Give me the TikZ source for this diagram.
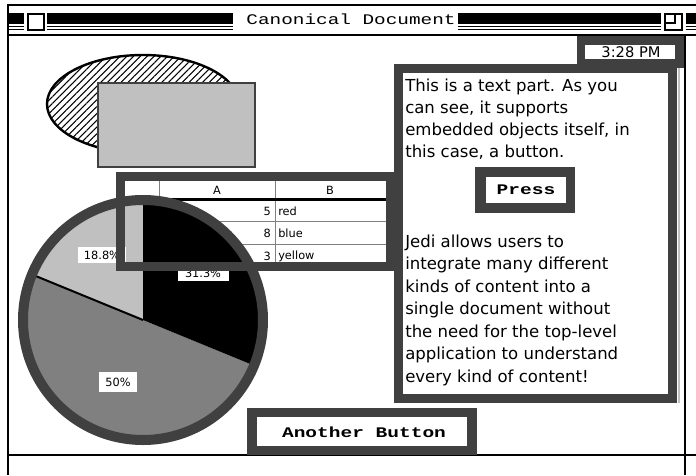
\documentclass[tikz,border=0pt]{standalone}
\usepackage{graphicx}
\usepackage{fontspec}
\setmainfont{DejaVu Sans}
\newfontfamily\monofont{Liberation Mono}
\usetikzlibrary{patterns.meta}
\definecolor{dk}{HTML}{404040}
\definecolor{lg}{HTML}{C0C0C0}
\definecolor{mg}{HTML}{808080}
\newcommand{\bodyfont}{\fontsize{12.4}{15}\selectfont}
\newcommand{\tabfont}{\fontsize{8.5}{10}\selectfont}
\newcommand{\lblfont}{\fontsize{8.5}{10}\selectfont}
\newcommand{\btnfont}{\monofont\bfseries\fontsize{11}{12}\selectfont}
\newcommand{\ttlfont}{\monofont\fontsize{11}{12}\selectfont}
\tikzset{
  px/.style={line width=#1*0.75pt},
  body/.style={anchor=base west, inner sep=0pt, font=\bodyfont},
  tab/.style={inner sep=0pt, font=\tabfont},
  pielbl/.style={fill=white, inner sep=0pt, font=\lblfont},
  frame/.style={draw=dk, px=9},
}
\begin{document}
\begin{tikzpicture}[x=0.75pt,y=-0.75pt]
\useasboundingbox (0,0) rectangle (696,475);
\fill[white] (0,0) rectangle (696,475);

% ---- title bar ----
\fill (9,13) rectangle (233,23.5);
\fill (9,25.5) rectangle (233,27);
\fill (9,28.7) rectangle (233,30.2);
\fill (458,13) rectangle (696,23.5);
\fill (458,25.5) rectangle (696,27);
\fill (458,28.7) rectangle (696,30.2);
\fill[white] (24,10) rectangle (47,33);
\draw[px=1.5] (28,14) rectangle (44,30);
\fill[white] (661,10) rectangle (686,33);
\draw[px=1.5] (665,14) rectangle (682,30);
\draw[px=1.5] (665,14) rectangle (675,23);
\node[inner sep=0pt, font=\ttlfont] (title) at (351,19) {\scalebox{1.32}[1]{Canonical Document}};

% ---- window frame ----
\draw[px=1.5] (7,5) -- (696,5);
\draw[px=1.5] (8,5) -- (8,475);
\draw[px=1.5] (8,35) -- (696,35);
\draw[px=1.5] (685,35) -- (685,475);
\draw[px=1.5] (8,455) -- (696,455);

% ---- ellipse and rectangle ----
\draw[px=2.4, pattern={Lines[angle=45, distance=3.6pt, line width=0.8pt]}] (143,104) ellipse[x radius=96, y radius=49];
\draw[dk, fill=lg, px=1.2] (98,83) rectangle (255,167);

% ---- table cells ----
\fill[white] (125,181) rectangle (386,262);
\draw[mg, px=1] (159,181) -- (159,262);
\draw[mg, px=1] (275,181) -- (275,262);
\draw[mg, px=1] (386,181) -- (386,262);
\draw[mg, px=1] (125,221) -- (386,221);
\draw[mg, px=1] (125,244) -- (386,244);
\fill (125,197.5) rectangle (386,200.5);
\node[tab] (hA) at (217,190) {A};
\node[tab] (hB) at (330,190) {B};
\node[tab, anchor=east] (n1) at (271,211) {5};
\node[tab, anchor=east] (n2) at (271,233) {8};
\node[tab, anchor=east] (n3) at (271,256) {3};
\node[tab, anchor=west] (w1) at (278,211) {red};
\node[tab, anchor=west] (w2) at (278,233) {blue};
\node[tab, anchor=west] (w3) at (278,256) {yellow};

% ---- pie chart ----
\begin{scope}[shift={(143,320)}]
\fill[lg] (0,0) -- (-90:120) arc[start angle=-90, end angle=-157.7, radius=120] -- cycle;
\fill[mg] (0,0) -- (-157.7:120) arc[start angle=-157.7, end angle=-337.7, radius=120] -- cycle;
\fill[black] (0,0) -- (-337.7:120) arc[start angle=-337.7, end angle=-450, radius=120] -- cycle;
\draw[px=2] (0,0) -- (-157.7:118);
\draw[dk, px=10] (0,0) circle[radius=120];
\end{scope}
\node[pielbl, minimum width=48*0.75pt, minimum height=16*0.75pt] (l188) at (102,255) {18.8\%};
\node[pielbl, minimum width=51*0.75pt, minimum height=16*0.75pt] (l313) at (203,273) {31.3\%};
\node[pielbl, minimum width=38*0.75pt, minimum height=20*0.75pt] (l50) at (118,382) {50\%};

% ---- table frame ----
\draw[frame] (120,176.5) rectangle (390.5,266);

% ---- time box ----
\fill[dk] (577,35.8) rectangle (683.5,68);
\fill[white] (585,45) rectangle (675,59);
\node[inner sep=0pt, font=\fontsize{11}{12}\selectfont] (time) at (631,52) {3:28 PM};

% ---- text part ----
\fill[white] (403,73) rectangle (668,394);
\draw[frame] (398.5,68.5) rectangle (672.5,398.5);
\draw[lg, px=1.5] (679,68) -- (679,403);
\node[body] (p1) at (405,91) {This is a text part. As you};
\node[body] (p2) at (405,113) {can see, it supports};
\node[body] (p3) at (405,135) {embedded objects itself, in};
\node[body] (p4) at (405,157) {this case, a button.};
\fill[dk] (475,167) rectangle (575,213);
\fill[white] (486,177) rectangle (566,203);
\node[inner sep=0pt, font=\btnfont] (press) at (526,190) {\scalebox{1.33}[1]{Press}};
\node[body] (q1) at (405,247) {Jedi allows users to};
\node[body] (q2) at (405,269.5) {integrate many different};
\node[body] (q3) at (405,292) {kinds of content into a};
\node[body] (q4) at (405,314.5) {single document without};
\node[body] (q5) at (405,337) {the need for the top-level};
\node[body] (q6) at (405,359.5) {application to understand};
\node[body] (q7) at (405,382) {every kind of content!};

% ---- another button ----
\fill[dk] (247,408) rectangle (477,455);
\fill[white] (257,417) rectangle (467,446);
\node[inner sep=0pt, font=\btnfont] (another) at (364,432) {\scalebox{1.33}[1]{Another Button}};
\end{tikzpicture}
\end{document}
